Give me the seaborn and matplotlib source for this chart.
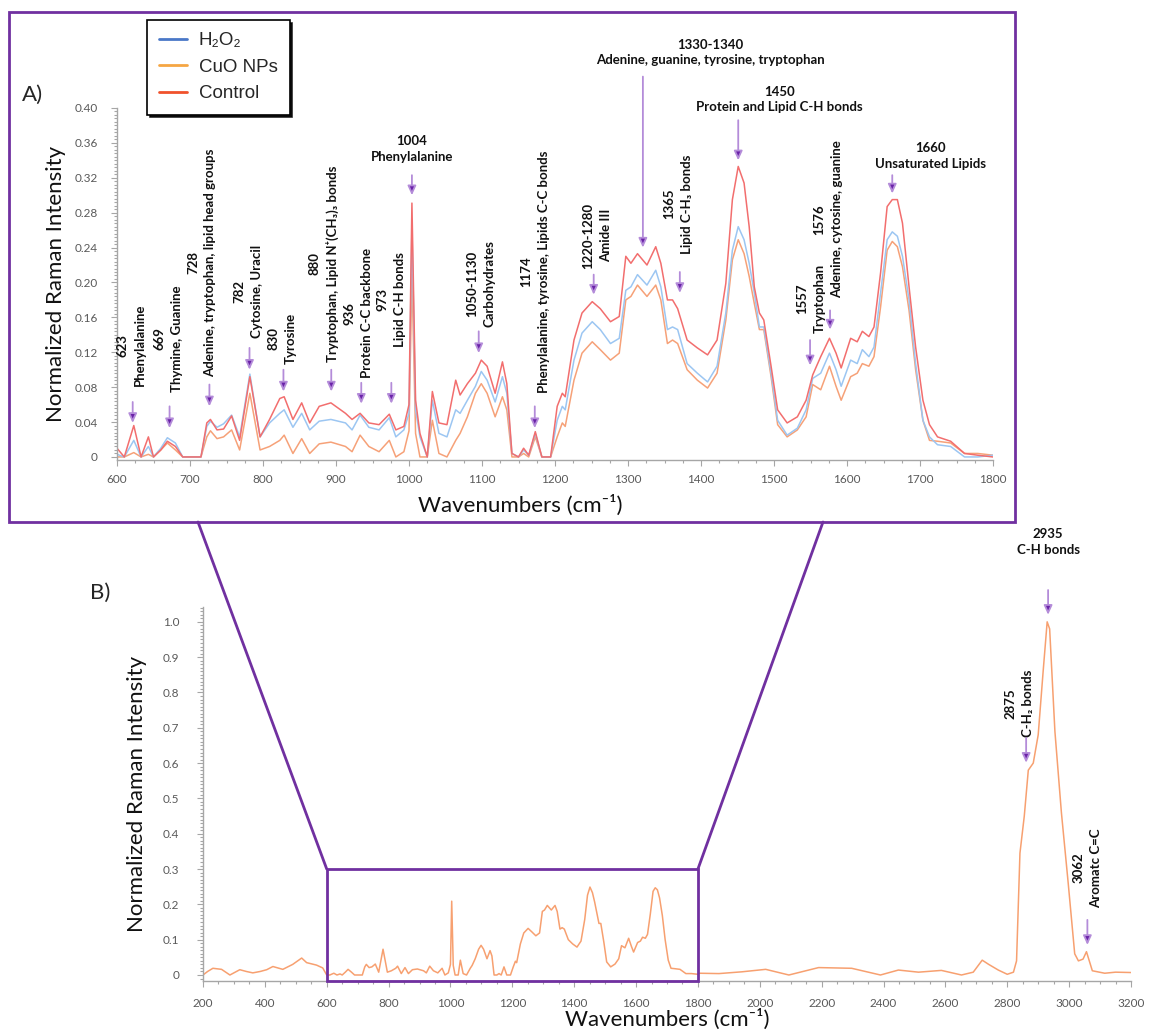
import matplotlib
matplotlib.use("Agg")
import matplotlib.pyplot as plt
import matplotlib.ticker as mticker
from matplotlib.lines import Line2D
from matplotlib.patches import Rectangle, ConnectionPatch
from matplotlib.font_manager import FontProperties
from matplotlib.transforms import ScaledTranslation
import pandas as pd
import seaborn as sns

# ---- panel A: fingerprint region, three samples ----
wn_a = [600, 610, 623, 633, 643, 650, 660, 669, 680, 690,
        700, 715, 723, 728, 737, 746, 757, 768, 782, 796,
        809, 823, 829, 841, 853, 864, 877, 893, 913, 922,
        933, 945, 959, 973, 982, 993, 1000, 1004, 1009, 1015,
        1025, 1032, 1041, 1052, 1064, 1070, 1080, 1091, 1099, 1107,
        1118, 1128, 1134, 1141, 1150, 1157, 1164, 1173, 1182, 1194,
        1203, 1210, 1214, 1226, 1237, 1251, 1262, 1276, 1288, 1297,
        1304, 1313, 1326, 1338, 1345, 1354, 1361, 1368, 1381, 1395,
        1409, 1422, 1434, 1443, 1451, 1459, 1466, 1473, 1480, 1486,
        1496, 1505, 1518, 1532, 1544, 1553, 1564, 1576, 1585, 1592,
        1605, 1614, 1621, 1630, 1637, 1646, 1655, 1662, 1669, 1676,
        1685, 1694, 1704, 1713, 1724, 1742, 1761, 1779, 1800]

control = [0.010, 0.000, 0.036, 0.000, 0.023, 0.000, 0.008, 0.018, 0.012, 0.000,
           0.000, 0.000, 0.039, 0.043, 0.031, 0.032, 0.047, 0.019, 0.092, 0.023,
           0.043, 0.067, 0.069, 0.043, 0.062, 0.039, 0.058, 0.062, 0.050, 0.043,
           0.050, 0.039, 0.037, 0.049, 0.031, 0.035, 0.060, 0.291, 0.065, 0.027,
           0.000, 0.075, 0.039, 0.037, 0.088, 0.071, 0.084, 0.096, 0.111, 0.104,
           0.073, 0.109, 0.084, 0.004, 0.000, 0.010, 0.002, 0.029, 0.000, 0.000,
           0.058, 0.073, 0.069, 0.134, 0.165, 0.178, 0.170, 0.155, 0.161, 0.230,
           0.222, 0.233, 0.220, 0.241, 0.222, 0.180, 0.180, 0.170, 0.134, 0.125,
           0.117, 0.134, 0.199, 0.295, 0.333, 0.314, 0.264, 0.195, 0.165, 0.157,
           0.104, 0.054, 0.039, 0.046, 0.065, 0.094, 0.115, 0.136, 0.119, 0.102,
           0.136, 0.132, 0.144, 0.138, 0.149, 0.211, 0.287, 0.295, 0.295, 0.268,
           0.195, 0.126, 0.065, 0.037, 0.023, 0.018, 0.004, 0.002, 0.000]

h2o2 = [0.003, 0.000, 0.019, 0.000, 0.012, 0.000, 0.010, 0.022, 0.016, 0.000,
        0.000, 0.000, 0.035, 0.041, 0.034, 0.038, 0.048, 0.023, 0.095, 0.023,
        0.039, 0.050, 0.054, 0.034, 0.050, 0.031, 0.041, 0.043, 0.039, 0.031,
        0.048, 0.034, 0.031, 0.045, 0.023, 0.031, 0.050, 0.264, 0.054, 0.023,
        0.000, 0.065, 0.027, 0.023, 0.054, 0.050, 0.065, 0.081, 0.098, 0.088,
        0.063, 0.092, 0.073, 0.004, 0.000, 0.008, 0.002, 0.027, 0.000, 0.000,
        0.042, 0.058, 0.054, 0.111, 0.142, 0.155, 0.146, 0.130, 0.136, 0.191,
        0.195, 0.209, 0.197, 0.214, 0.195, 0.146, 0.149, 0.146, 0.107, 0.096,
        0.086, 0.104, 0.165, 0.237, 0.264, 0.249, 0.222, 0.188, 0.149, 0.149,
        0.096, 0.042, 0.025, 0.033, 0.054, 0.090, 0.096, 0.119, 0.100, 0.081,
        0.111, 0.107, 0.123, 0.115, 0.126, 0.188, 0.249, 0.258, 0.253, 0.230,
        0.180, 0.107, 0.042, 0.023, 0.014, 0.012, 0.000, 0.000, 0.002]

cuo = [0.000, 0.000, 0.005, 0.000, 0.003, 0.000, 0.008, 0.016, 0.008, 0.000,
       0.000, 0.000, 0.023, 0.030, 0.021, 0.023, 0.031, 0.008, 0.073, 0.008,
       0.012, 0.019, 0.025, 0.004, 0.021, 0.004, 0.015, 0.017, 0.012, 0.006,
       0.025, 0.012, 0.006, 0.019, 0.000, 0.006, 0.030, 0.209, 0.027, 0.000,
       0.000, 0.042, 0.004, 0.000, 0.019, 0.027, 0.046, 0.073, 0.084, 0.073,
       0.046, 0.069, 0.054, 0.000, 0.000, 0.004, 0.000, 0.023, 0.000, 0.000,
       0.023, 0.039, 0.035, 0.088, 0.119, 0.132, 0.123, 0.111, 0.119, 0.180,
       0.184, 0.197, 0.184, 0.197, 0.180, 0.130, 0.134, 0.130, 0.100, 0.088,
       0.079, 0.096, 0.157, 0.226, 0.249, 0.233, 0.207, 0.176, 0.146, 0.146,
       0.092, 0.037, 0.023, 0.031, 0.046, 0.083, 0.077, 0.104, 0.081, 0.065,
       0.092, 0.096, 0.107, 0.104, 0.115, 0.172, 0.237, 0.247, 0.241, 0.218,
       0.168, 0.100, 0.042, 0.019, 0.018, 0.016, 0.004, 0.004, 0.002]

# ---- panel B: full spectrum (fingerprint part = CuO NPs above) ----
wn_b_low = [200, 215, 232, 260, 287, 319, 340, 361, 385, 406,
            426, 458, 490, 519, 535, 567, 587]
b_low = [0.000, 0.010, 0.019, 0.016, 0.000, 0.015, 0.010, 0.006, 0.010, 0.015,
         0.024, 0.016, 0.030, 0.048, 0.035, 0.028, 0.020]

wn_b_high = [1803, 1868, 1942, 2019, 2094, 2190, 2297, 2390, 2448, 2513,
             2587, 2652, 2690, 2719, 2740, 2771, 2800, 2820, 2830, 2841,
             2855, 2868, 2884, 2900, 2916, 2929, 2937, 2954, 2975, 2997,
             3018, 3030, 3045, 3056, 3065, 3075, 3115, 3150, 3200]
b_high = [0.005, 0.004, 0.009, 0.016, 0.000, 0.021, 0.019, 0.000, 0.014, 0.008,
          0.013, 0.000, 0.008, 0.042, 0.030, 0.014, 0.002, 0.008, 0.040, 0.345,
          0.450, 0.580, 0.600, 0.680, 0.860, 1.000, 0.980, 0.690, 0.460, 0.260,
          0.060, 0.040, 0.045, 0.066, 0.040, 0.012, 0.005, 0.008, 0.007]

legend_labels = ["H\u2082O\u2082", "CuO NPs", "Control"]

# label text, label x, label bottom y, arrow x, arrow tip y, arrow tail y, vertical?
notes_a = [
    ("623\nPhenylalanine", 619, 0.081, 621.5, 0.039, 0.063, True),
    ("669\nThymine, Guanine", 670, 0.075, 672, 0.033, 0.058, True),
    ("728\nAdenine, tryptophan, lipid head groups", 716, 0.092, 726.6, 0.058, 0.083, True),
    ("782\nCytosine, Uracil", 780, 0.136, 781.5, 0.100, 0.125, True),
    ("830\nTyrosine", 826, 0.107, 828, 0.075, 0.100, True),
    ("880\nTryptophan, Lipid N\u207a(CH\u2083)\u2083 bonds", 882.5, 0.109, 893.5, 0.075, 0.100, True),
    ("936\nProtein C-C backbone", 931, 0.090, 934.6, 0.061, 0.085, True),
    ("973\nLipid C-H bonds", 976, 0.126, 975.8, 0.061, 0.085, True),
    ("1004\nPhenylalanine", 1004, 0.337, 1004, 0.300, 0.323, False),
    ("1050-1130\nCarbohydrates", 1098, 0.149, 1095.5, 0.119, 0.144, True),
    ("1174\nPhenylalanine, tyrosine, Lipids C-C bonds", 1173, 0.073, 1172.3, 0.033, 0.058, True),
    ("1220-1280\nAmide III", 1258, 0.216, 1253, 0.186, 0.209, True),
    ("1330-1340\nAdenine, guanine, tyrosine, tryptophan", 1413, 0.448, 1320.4, 0.240, 0.436, False),
    ("1365\nLipid C-H\u2083 bonds", 1369, 0.233, 1371, 0.188, 0.212, True),
    ("1450\nProtein and Lipid C-H bonds", 1507, 0.394, 1451, 0.340, 0.386, False),
    ("1557\nTryptophan", 1551, 0.142, 1549.4, 0.105, 0.134, True),
    ("1576\nAdenine, cytosine, guanine", 1574, 0.182, 1576.8, 0.146, 0.168, True),
    ("1660\nUnsaturated Lipids", 1715, 0.329, 1662, 0.302, 0.323, False),
]
notes_b = [
    ("2935\nC-H bonds", 2932, 1.187, 2932, 1.020, 1.090, False),
    ("2875\nC-H\u2082 bonds", 2839, 0.674, 2861, 0.601, 0.671, True),
    ("3062\nAromatc C=C", 3058, 0.190, 3059, 0.085, 0.156, True),
]

# ---- style ----
sns.set_style("white")
plt.rcParams['font.family'] = ['Lato', 'DejaVu Sans']

PURPLE = '#7030A0'
W, H = 1149, 1035
NOTE_FS = 9.5
LINE_PX = 17.5


def px_box(l, t, r, b):
    return [l / W, 1 - b / H, (r - l) / W, (b - t) / H]


def style_axes(ax, xstep, xminor, ystep, yminor, yfmt, ypad, xpad):
    sns.despine(ax=ax)
    for s in ['left', 'bottom']:
        ax.spines[s].set_color('#A6A6A6')
        ax.spines[s].set_linewidth(1)
    ax.xaxis.set_major_locator(mticker.MultipleLocator(xstep))
    ax.xaxis.set_minor_locator(mticker.MultipleLocator(xminor))
    ax.yaxis.set_major_locator(mticker.MultipleLocator(ystep))
    ax.yaxis.set_minor_locator(mticker.MultipleLocator(yminor))
    ax.yaxis.set_major_formatter(mticker.FuncFormatter(
        lambda v, p: '0' if abs(v) < 1e-9 else yfmt.format(v)))
    ax.tick_params(which='both', direction='out', color='#A6A6A6',
                   bottom=True, left=True, width=0.8)
    ax.tick_params(which='major', length=4)
    ax.tick_params(which='minor', length=2.5)
    ax.tick_params(axis='both', labelsize=8.5, labelcolor='#595959')
    ax.tick_params(axis='y', pad=ypad)
    ax.tick_params(axis='x', pad=xpad)
    ax.set_xlabel('Wavenumbers (cm\u207b\u00b9)', fontsize=16, color='#111111')
    ax.set_ylabel('Normalized Raman Intensity', fontsize=16, color='#111111')


def annotate(ax, notes):
    renderer = fig.canvas.get_renderer()
    kw = dict(fontsize=NOTE_FS, fontweight='bold', color='#111111', clip_on=False)
    for text, tx, ty, ax_x, tip, tail, vert in notes:
        if vert:
            # one text per line, lines centred on each other along the reading direction
            lines = text.split('\n')
            lengths = []
            for ln in lines:
                t = ax.text(0, 0, ln, **kw)
                lengths.append(t.get_window_extent(renderer).width)
                t.remove()
            longest = max(lengths)
            n = len(lines)
            for i, (ln, L) in enumerate(zip(lines, lengths)):
                dx = (i - (n - 1) / 2) * LINE_PX
                dy = (longest - L) / 2
                trans = ax.transData + ScaledTranslation(dx / fig.dpi, dy / fig.dpi,
                                                         fig.dpi_scale_trans)
                ax.text(tx, ty, ln, rotation=90, ha='center', va='bottom',
                        transform=trans, **kw)
        else:
            ax.text(tx, ty, text, ha='center', va='bottom', multialignment='center',
                    linespacing=1.35, **kw)
        ax.annotate('', xy=(ax_x, tip), xytext=(ax_x, tail), annotation_clip=False,
                    arrowprops=dict(arrowstyle='-|>,head_length=0.55,head_width=0.25',
                                    ec='#B48CD9', fc='#6A22A8', lw=1.3,
                                    shrinkA=0, shrinkB=0))


fig = plt.figure(figsize=(W / 100, H / 100), dpi=100)
axA = fig.add_axes(px_box(117, 108, 993, 460))
axB = fig.add_axes(px_box(203, 607, 1131, 981))

# panel A
dfA = pd.concat([
    pd.DataFrame({'wn': wn_a, 'val': cuo, 'sample': 'CuO NPs'}),
    pd.DataFrame({'wn': wn_a, 'val': h2o2, 'sample': 'H2O2'}),
    pd.DataFrame({'wn': wn_a, 'val': control, 'sample': 'Control'}),
])
line_cols = {'CuO NPs': '#F6A178', 'H2O2': '#9CC6F2', 'Control': '#F26E6E'}
sns.lineplot(data=dfA, x='wn', y='val', hue='sample',
             hue_order=['CuO NPs', 'H2O2', 'Control'], palette=line_cols,
             estimator=None, sort=False, lw=1.1, legend=False, ax=axA)
axA.set_xlim(600, 1800)
axA.set_ylim(-0.0035, 0.40)
style_axes(axA, 100, 25, 0.04, 0.004, '{:.2f}', 10, 6)
axA.xaxis.set_label_coords(0.46, -0.10)
axA.yaxis.set_label_coords(-0.058, 0.5)
annotate(axA, notes_a)

# panel B
dfB = pd.DataFrame({'wn': wn_b_low + wn_a + wn_b_high,
                    'val': b_low + cuo + b_high})
sns.lineplot(data=dfB, x='wn', y='val', color='#F7A070', lw=1.1,
             estimator=None, sort=False, ax=axB)
axB.set_xlim(200, 3200)
yB_lo = -0.017
axB.set_ylim(yB_lo, 1.042)
style_axes(axB, 200, 50, 0.1, 0.01, '{:.1f}', 13, 8)
axB.xaxis.set_label_coords(0.5, -0.075)
axB.yaxis.set_label_coords(-0.060, 0.5)
annotate(axB, notes_b)

# zoom box and connectors
axB.add_patch(Rectangle((600, yB_lo), 1200, 0.3 - yB_lo, fill=False, ec=PURPLE,
                        lw=2, clip_on=False, zorder=5))
fig.add_artist(Rectangle((9 / W, 1 - 522 / H), (1015 - 9) / W, (522 - 12) / H,
                         transform=fig.transFigure, fill=False, ec=PURPLE, lw=2))
for fx, bx in [(198, 600), (823, 1800)]:
    fig.add_artist(ConnectionPatch(xyA=(fx / W, 1 - 522 / H), coordsA=fig.transFigure,
                                   xyB=(bx, 0.3), coordsB=axB.transData,
                                   color=PURPLE, lw=2))

fig.text(22 / W, 1 - 95 / H, 'A)', fontsize=16, va='center')
fig.text(90 / W, 1 - 593 / H, 'B)', fontsize=16, va='center')

handles = [Line2D([], [], color=c, lw=2) for c in ['#4A78C8', '#F5A643', '#F0522C']]
leg = fig.legend(handles, legend_labels, loc='upper left',
                 bbox_to_anchor=(147 / W, 1 - 20 / H), borderaxespad=0,
                 prop=FontProperties(family=['Liberation Sans', 'DejaVu Sans'], size=13.5),
                 frameon=True, fancybox=False, edgecolor='black', framealpha=1,
                 shadow={'color': 'black', 'alpha': 0.85},
                 handlelength=1.5, labelspacing=0.5, borderpad=0.65, handletextpad=0.6)
leg.get_frame().set_linewidth(1.2)

fig.savefig('out.png', dpi=100)
